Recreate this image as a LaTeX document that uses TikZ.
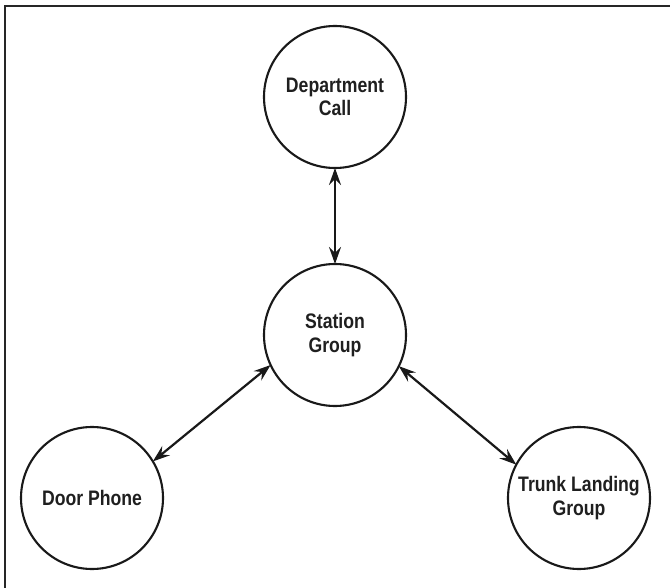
\documentclass[tikz,border=0pt]{standalone}
\usepackage{fontspec}
\newfontfamily\lblfont{Liberation Sans}[FakeStretch=0.84]
\usetikzlibrary{arrows.meta}
\begin{document}
\begin{tikzpicture}[x=1pt,y=-1pt,
  state/.style={circle, draw=black!90, line width=2.1pt, minimum size=142pt,
    inner sep=0pt, outer sep=0pt, align=center,
    font=\lblfont\bfseries\fontsize{21}{23.3}\selectfont, text=black!88},
  link/.style={line width=2.2pt, draw=black!90,
    >={Stealth[length=17pt,width=12pt,inset=6pt]}, <->}]
\useasboundingbox (0,0) rectangle (670,588);
\fill[white] (0,0) rectangle (670,588);
% outer frame
\draw[line width=2.6pt, black!85] (670,6) -- (5,6) -- (5,588);

\node[state] (dept) at (335,97) {Department\\Call};
\node[state] (station) at (335,335) {Station\\Group};
\node[state] (door) at (92,498) {Door Phone};
\node[state] (trunk) at (579,498) {Trunk Landing\\Group};

\draw[link] (dept.south) -- (station.north);
\draw[link] (station.205) -- (door.31);
\draw[link] (station.-26) -- (trunk.152);
\end{tikzpicture}
\end{document}
